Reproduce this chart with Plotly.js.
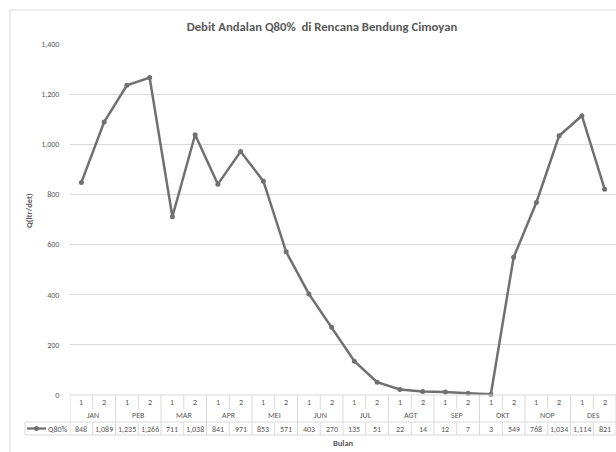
<!DOCTYPE html>
<html>
<head>
<meta charset="utf-8">
<script src="https://cdn.plot.ly/plotly-3.0.1.min.js"></script>
<style>html,body{margin:0;padding:0;background:#fff}#chart{width:616px;height:452px}</style>
</head>
<body>
<div id="chart"></div>
<script>
const months = ["JAN","PEB","MAR","APR","MEI","JUN","JUL","AGT","SEP","OKT","NOP","DES"];
const halves = ["1","2","1","2","1","2","1","2","1","2","1","2","1","2","1","2","1","2","1","2","1","2","1","2"];
const seriesName = "Q80%";
const q80 = [848,1089,1235,1266,711,1038,841,971,853,571,403,270,135,51,22,14,12,7,3,549,768,1034,1114,821];
const yTicks = [0,200,400,600,800,1000,1200,1400];

const W = 616, H = 452, L = 70, R = 0, T = 44, B = 57;
const plotW = W - L - R, plotH = H - T - B;
const yBase = H - B; // pixel y of axis
const py = p => (yBase - p) / plotH;
const px = p => (p - L) / plotW;

const FONT = "Carlito, Calibri, 'Liberation Sans', sans-serif";
const TXT = "#595959";
const GRID = "#d9d9d9";
const LINEC = "#707070";

const xIdx = q80.map((_, i) => i);

const shapes = [];
const ann = [];
function hline(y, x0, x1, xref) {
  shapes.push({type:"line", xref: xref||"paper", yref:"paper", x0:x0, x1:x1, y0:py(y), y1:py(y), line:{color:GRID, width:1}});
}
function vline(x, y0, y1, xref) {
  shapes.push({type:"line", xref: xref||"x", yref:"paper", x0:x, x1:x, y0:py(y0), y1:py(y1), line:{color:GRID, width:1}});
}
// outer chart border
hline(10, px(10), px(620));
shapes.push({type:"line", xref:"paper", yref:"paper", x0:px(10), x1:px(10), y0:py(10), y1:py(460), line:{color:GRID, width:1}});
// table
hline(yBase, -0.5, halves.length - 0.5, "x");
hline(422, px(25), px(617));
hline(435, px(25), px(617));
vline(px(25), 422, 435, "paper");
for (let i = 0; i <= halves.length; i++) {
  const x = i - 0.5;
  if (i % 2 === 0) {
    vline(x, yBase, 435);
  } else {
    vline(x, yBase, 409);
    vline(x, 422, 435);
  }
}
const tf = {family: FONT, size: 8, color: TXT};
halves.forEach((h, i) => ann.push({xref:"x", yref:"paper", x:i, y:py(402), text:h, showarrow:false, font:tf, xanchor:"center", yanchor:"middle"}));
months.forEach((m, k) => ann.push({xref:"x", yref:"paper", x:2*k+0.5, y:py(415), text:m, showarrow:false, font:tf, xanchor:"center", yanchor:"middle"}));
q80.forEach((v, i) => ann.push({xref:"x", yref:"paper", x:i, y:py(428.5), text:v.toLocaleString("en-US"), showarrow:false, font:tf, xanchor:"center", yanchor:"middle"}));
// legend key in table
shapes.push({type:"line", xref:"paper", yref:"paper", x0:px(27), x1:px(46), y0:py(428.5), y1:py(428.5), line:{color:LINEC, width:2.25}});
shapes.push({type:"circle", xref:"paper", yref:"paper", x0:px(34), x1:px(39), y0:py(431), y1:py(426), fillcolor:LINEC, line:{color:LINEC, width:0}});
ann.push({xref:"paper", yref:"paper", x:px(46), y:py(428.5), text:seriesName, showarrow:false, font:tf, xanchor:"left", yanchor:"middle"});
// axis titles
ann.push({xref:"paper", yref:"paper", x:px(343), y:py(443), text:"<b>Bulan</b>", showarrow:false, font:{family:FONT, size:8.5, color:TXT}, xanchor:"center", yanchor:"middle"});
ann.push({xref:"paper", yref:"paper", x:px(29), y:py(211), text:"<b>Q(ltr/det)</b>", textangle:-90, showarrow:false, font:{family:FONT, size:8.5, color:TXT}, xanchor:"center", yanchor:"middle"});

const trace = {
  x: xIdx, y: q80, type: "scatter", mode: "lines+markers", name: seriesName,
  line: {color: LINEC, width: 2.5},
  marker: {color: LINEC, size: 5, symbol: "circle"},
  cliponaxis: false, hoverinfo: "skip"
};

const layout = {
  width: W, height: H,
  margin: {l: L, r: R, t: T, b: B, pad: 0},
  paper_bgcolor: "#ffffff", plot_bgcolor: "#ffffff",
  showlegend: false,
  title: {text: "<b>Debit Andalan Q80%  di Rencana Bendung Cimoyan</b>", font: {family: FONT, size: 12.7, color: TXT}, xref: "paper", x: px(322), xanchor: "center", y: 1 - 27/H, yanchor: "middle"},
  xaxis: {range: [-0.5, halves.length - 0.5], showgrid: false, zeroline: false, showticklabels: false, ticks: "", showline: false, fixedrange: true},
  yaxis: {range: [0, 1400], tickvals: yTicks, ticktext: yTicks.map(v => v.toLocaleString("en-US")),
          showgrid: true, gridcolor: GRID, gridwidth: 1, zeroline: false, showline: false,
          ticks: "outside", ticklen: 8, tickcolor: "rgba(0,0,0,0)", tickfont: {family: FONT, size: 8, color: TXT}},
  shapes: shapes, annotations: ann
};
Plotly.newPlot("chart", [trace], layout, {staticPlot: true, displayModeBar: false});
</script>
</body>
</html>
